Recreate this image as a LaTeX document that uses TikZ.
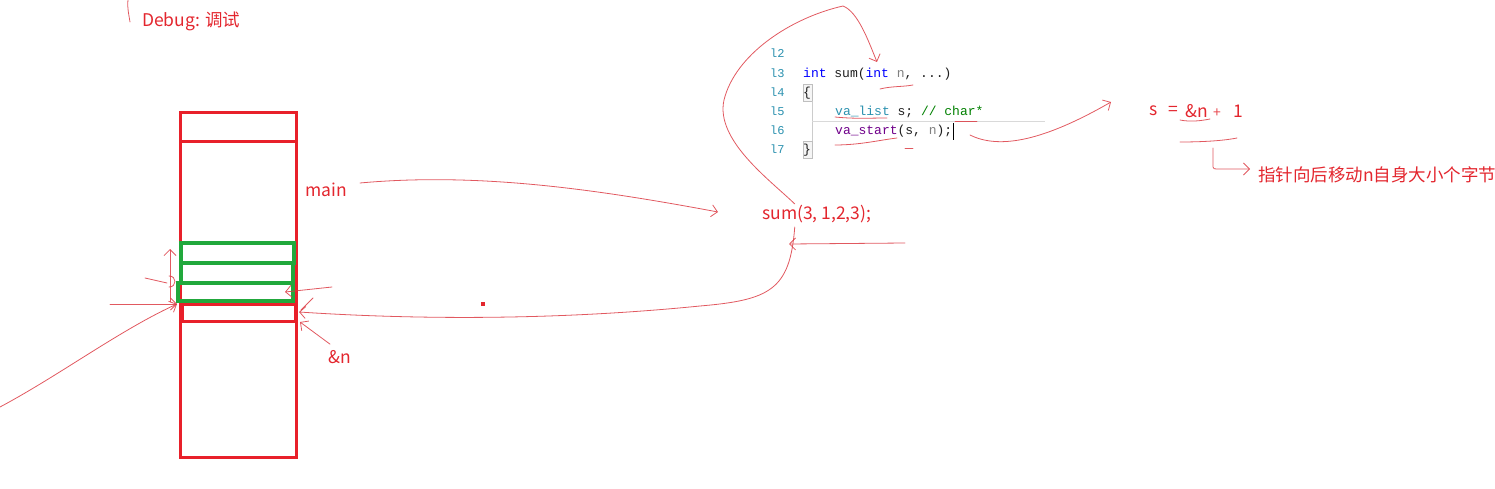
\documentclass[tikz,border=0pt]{standalone}
\usepackage{fontspec}
\setmainfont{Liberation Sans}
\newfontfamily\cjk{Noto Sans CJK SC}
\newfontfamily\codefont{Liberation Mono}
\usetikzlibrary{arrows.meta}
\definecolor{inkred}{HTML}{E3262E}
\definecolor{pen}{HTML}{DC3C44}
\definecolor{stackred}{HTML}{E8202A}
\definecolor{stackgreen}{HTML}{21A83C}
\definecolor{lnum}{HTML}{2B91AF}
\definecolor{kw}{HTML}{0000FF}
\definecolor{ty}{HTML}{2B91AF}
\definecolor{cm}{HTML}{008000}
\definecolor{mac}{HTML}{6F008A}
\definecolor{par}{HTML}{808080}
\definecolor{txt}{HTML}{1E1E1E}
\begin{document}
\begin{tikzpicture}[x=1pt,y=-1pt,
  lbl/.style={text=inkred, font=\cjk\fontsize{17.5}{20}\selectfont, inner sep=0pt, anchor=west},
  ink/.style={draw=pen, line width=0.8pt, opacity=0.85, line cap=round, line join=round},
  inkarrow/.style={ink, -{Straight Barb[length=6pt,width=12pt]}},
  code/.style={font=\codefont\fontsize{13}{15}\selectfont, text=txt, inner sep=0pt, anchor=base west},
  lno/.style={font=\codefont\fontsize{12}{14}\selectfont, text=lnum, inner sep=0pt, anchor=base west},
  redbox/.style={draw=stackred, line width=3pt},
  greenbox/.style={draw=stackgreen, line width=3.5pt}]
\useasboundingbox (0,0) rectangle (1495,489);

% ---------- top-left note
\draw[ink] (128,0) .. controls (127,8) and (129,15) .. (130,22);
\node[lbl] (debug) at (142,21) {Debug: 调试};

% ---------- stack
\draw[redbox] (180,113) rectangle (296,457);
\draw[redbox] (180,142) -- (296,142);
\draw[redbox] (182,304) rectangle (295,321);
\draw[greenbox] (181,243) rectangle (294,263);
\draw[greenbox] (181,263) rectangle (293,283);
\draw[greenbox] (178,283) rectangle (293,301);
\coordinate (gslot) at (285,292);
\coordinate (nslot) at (299,312);
\coordinate (nlow) at (300,322);
\coordinate (lslot) at (177,304);

\node[lbl] (main) at (305,190) {main};
\node[lbl] (amp) at (328,357) {\&n};

% ---------- code
\fill[black!4] (803,84) rectangle (812,101);
\draw[black!25, line width=0.5pt] (803,84) rectangle (812,101);
\fill[black!4] (803,141) rectangle (812,158);
\draw[black!25, line width=0.5pt] (803,141) rectangle (812,158);
\draw[black!20, line width=0.6pt] (812,101) -- (812,141);
\draw[black!15, line width=0.6pt] (812,121) -- (1045,121);

\node[lno] (l2) at (770,58) {l2};
\node[lno] (l3) at (770,78) {l3};
\node[lno] (l4) at (770,97) {l4};
\node[lno] (l5) at (770,116) {l5};
\node[lno] (l6) at (770,135) {l6};
\node[lno] (l7) at (770,154) {l7};
\node[code] (c3) at (803,78) {\textcolor{kw}{int} sum(\textcolor{kw}{int} \textcolor{par}{n}, ...)};
\node[code] (c4) at (803,97) {\{};
\node[code] (c5) at (835,116) {\textcolor{ty}{va\_list} s; \textcolor{cm}{// char*}};
\node[code] (c6) at (835,135) {\textcolor{mac}{va\_start}(s, \textcolor{par}{n});};
\node[code] (c7) at (803,154) {\}};
\draw[black, line width=0.8pt] (953,123) -- (953,140);

% code underlines
\draw[ink] (880,89) .. controls (892,86) and (902,87) .. (913,85);
\draw[ink] (835,117) .. controls (855,119) and (870,118) .. (887,118);
\draw[ink] (955,121) -- (977,121);
\draw[ink] (835,145) .. controls (860,145) and (880,140) .. (897,138);
\draw[ink] (905,148) -- (913,148);

% ---------- call text
\node[lbl] (sum) at (762,214) {sum(3, 1,2,3);};

% ---------- s = &n + 1
\node[lbl] (s) at (1149,111) {s};
\node[lbl] (eq) at (1168,111) {=};
\node[lbl] (an) at (1185,111) {\&n};
\node[lbl, font=\cjk\fontsize{14}{16}\selectfont, text=inkred!85] (plus) at (1213,113) {+};
\node[lbl] (one) at (1233,111) {1};
\node[lbl] (note) at (1258,175) {指针向后移动n自身大小个字节};
\draw[ink] (1180,120) .. controls (1190,122) and (1200,121) .. (1210,119);
\draw[ink] (1180,142) .. controls (1200,142) and (1222,141) .. (1237,138);
\draw[inkarrow] (1213,148) -- (1213,167) .. controls (1213,169) .. (1222,169) -- (1250,169);

% ---------- hand-drawn connectors
% main -> sum
\draw[inkarrow] (main.east) ++(13,-7) .. controls (480,172) and (600,190) .. (718,212);
% incoming from the right
\draw[inkarrow] (905,243) -- (789,244);
% sum -> &n slot (big loop)
\draw[inkarrow] (sum.south) ++(-22,4) .. controls (790,290) and (770,300) .. (700,306)
   .. controls (560,320) and (420,320) .. (nslot);
\draw[ink] (313,298) -- (301,310);
% into the third green slot
\draw[inkarrow] (332,287) -- (gslot);
% &n label -> lower edge
\draw[inkarrow] (amp.north west) ++(2,-6) -- (nlow);
% sum -> code definition (loop over the top)
\draw[inkarrow] (sum.north) ++(-22,-1) .. controls (770,180) and (715,140) .. (724,100)
   .. controls (735,55) and (790,18) .. (843,6)
   .. controls (858,12) and (868,40) .. (877,62);
% va_start -> s = &n + 1
\draw[inkarrow] (970,135) .. controls (1000,150) and (1045,140) .. (1111,102);
% left side arrows
\draw[inkarrow] (170,302) -- (170,249);
\draw[ink] (145,278) -- (167,283);
\draw[ink] (169,276) .. controls (177,276) and (177,287) .. (169,287);
\draw[inkarrow] (110,304) -- (lslot);
\draw[inkarrow] (0,407) .. controls (60,375) and (120,330) .. (lslot);

% red dot
\fill[inkred] (481,302) rectangle (485,306);
\end{tikzpicture}
\end{document}
